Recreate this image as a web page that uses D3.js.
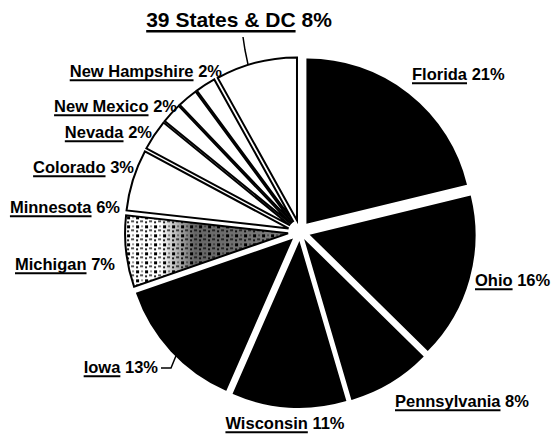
<!DOCTYPE html>
<html>
<head>
<meta charset="utf-8">
<script src="https://cdn.jsdelivr.net/npm/d3@7"></script>
<style>
body { margin: 0; background: #fff; }
text { font-family: "Liberation Sans", Arial, sans-serif; font-weight: bold; fill: #000; }
</style>
</head>
<body>
<div id="chart"></div>
<script>
// slices, clockwise from 12 o'clock
const states = ["Florida", "Ohio", "Pennsylvania", "Wisconsin", "Iowa", "Michigan",
    "Minnesota", "Colorado", "Nevada", "New Mexico", "New Hampshire", "39 States & DC"];
const shares = [21, 16, 8, 11, 13, 7, 6, 3, 2, 2, 2, 8];

// where each label sits (baseline) and how it is anchored
const labelSpots = [
    { x: 412, y: 80, anchor: "start" },
    { x: 475, y: 286, anchor: "start" },
    { x: 395, y: 407, anchor: "start" },
    { x: 285, y: 429, anchor: "middle" },
    { x: 158, y: 373, anchor: "end" },
    { x: 115, y: 270, anchor: "end" },
    { x: 120, y: 213, anchor: "end" },
    { x: 134, y: 173, anchor: "end" },
    { x: 152, y: 138, anchor: "end" },
    { x: 177, y: 112, anchor: "end" },
    { x: 222, y: 77, anchor: "end" },
    { x: 239, y: 27, anchor: "middle" }
];

const svgWidth = 553;
const svgHeight = 434;
const cx = 300, cy = 232;
const radius = 163;
const explode = 12;

const svg = d3.select("#chart")
    .append("svg")
    .attr("width", svgWidth)
    .attr("height", svgHeight);

const defs = svg.append("defs");

// speckled fill for Michigan
const pat = defs.append("pattern")
    .attr("id", "speckle")
    .attr("patternUnits", "userSpaceOnUse")
    .attr("width", 9)
    .attr("height", 9);
pat.append("rect").attr("width", 9).attr("height", 9).attr("fill", "#fff");
pat.append("rect").attr("x", 1).attr("y", 1).attr("width", 3).attr("height", 3).attr("fill", "#000");
pat.append("rect").attr("x", 5).attr("y", 5).attr("width", 3).attr("height", 2).attr("fill", "#555");
pat.append("rect").attr("x", 6).attr("y", 1).attr("width", 2).attr("height", 2).attr("fill", "#999");
pat.append("rect").attr("x", 1).attr("y", 6).attr("width", 2).attr("height", 2).attr("fill", "#222");

// darker toward the middle of the pie
const shade = defs.append("linearGradient")
    .attr("id", "shade")
    .attr("gradientUnits", "userSpaceOnUse")
    .attr("x1", -170).attr("x2", 0)
    .attr("y1", 0).attr("y2", 0);
shade.append("stop").attr("offset", "0.25").attr("stop-color", "#000").attr("stop-opacity", 0);
shade.append("stop").attr("offset", "0.45").attr("stop-color", "#000").attr("stop-opacity", 0.6);
shade.append("stop").attr("offset", "1").attr("stop-color", "#000").attr("stop-opacity", 0.5);

const pie = d3.pie().sort(null).value(d => d);
const arc = d3.arc().innerRadius(0).outerRadius(radius);
const arcs = pie(shares);

function fillFor(i) {
    if (i < 5) return "#000";
    if (i === 5) return "url(#speckle)";
    return "#fff";
}

function offset(d, r) {
    const mid = (d.startAngle + d.endAngle) / 2;
    return [Math.sin(mid) * r, -Math.cos(mid) * r];
}

const chart = svg.append("g")
    .attr("transform", `translate(${cx},${cy})`);

chart.selectAll(".slice")
    .data(arcs)
    .enter()
    .append("path")
    .attr("class", "slice")
    .attr("transform", d => `translate(${offset(d, explode)})`)
    .attr("d", arc)
    .attr("fill", (d, i) => fillFor(i))
    .attr("stroke", "#000")
    .attr("stroke-width", 2)
    .attr("stroke-linejoin", "miter");

// shading over the Michigan slice
chart.append("path")
    .attr("transform", `translate(${offset(arcs[5], explode)})`)
    .attr("d", arc(arcs[5]))
    .attr("fill", "url(#shade)");

// point on the rim of a slice at a fraction of its angle span
function rimPoint(i, frac) {
    const d = arcs[i];
    const a = d.startAngle + (d.endAngle - d.startAngle) * frac;
    const [ox, oy] = offset(d, explode);
    return [cx + ox + Math.sin(a) * radius, cy + oy - Math.cos(a) * radius];
}

// leader lines
const restPt = rimPoint(11, 0.4);
svg.append("path")
    .attr("d", `M243,37 L245,50 L${restPt[0]},${restPt[1]}`)
    .attr("fill", "none")
    .attr("stroke", "#000")
    .attr("stroke-width", 1.5);

const iowaPt = rimPoint(4, 0.45);
svg.append("path")
    .attr("d", `M161,368 L171,368 L${iowaPt[0]},${iowaPt[1]}`)
    .attr("fill", "none")
    .attr("stroke", "#000")
    .attr("stroke-width", 1.5);

// labels: underlined name + percent
states.forEach((name, i) => {
    const spot = labelSpots[i];
    const size = i === 11 ? 21 : 16.5;
    const g = svg.append("g");
    const nameText = g.append("text")
        .attr("x", 0)
        .attr("y", 0)
        .style("font-size", size + "px")
        .text(name);
    const w1 = nameText.node().getComputedTextLength();
    const gap = size * 0.28;
    const pctText = g.append("text")
        .attr("x", w1 + gap)
        .attr("y", 0)
        .style("font-size", size + "px")
        .text(shares[i] + "%");
    const total = w1 + gap + pctText.node().getComputedTextLength();
    g.append("line")
        .attr("x1", 0)
        .attr("x2", w1)
        .attr("y1", size * 0.2)
        .attr("y2", size * 0.2)
        .attr("stroke", "#000")
        .attr("stroke-width", i === 11 ? 2.5 : 2);
    let x0 = spot.x;
    if (spot.anchor === "end") x0 = spot.x - total;
    if (spot.anchor === "middle") x0 = spot.x - total / 2;
    g.attr("transform", `translate(${x0},${spot.y})`);
});
</script>
</body>
</html>
